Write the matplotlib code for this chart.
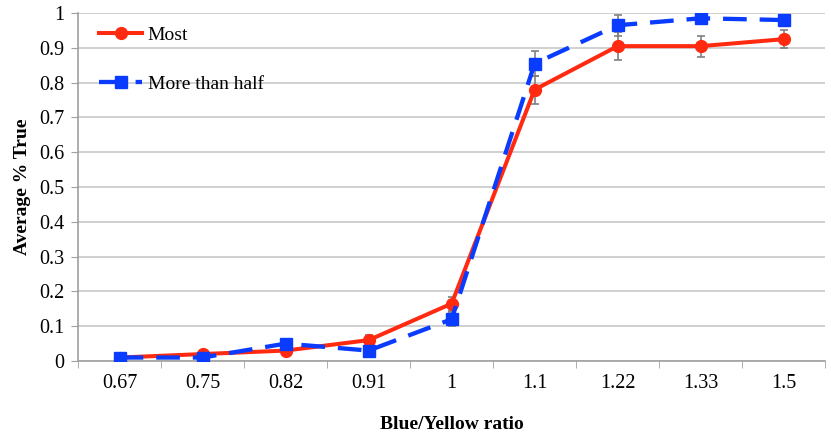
import numpy as np
import matplotlib
matplotlib.use("Agg")
import matplotlib.pyplot as plt
from matplotlib.ticker import FixedLocator

plt.rcParams['font.family'] = ['Liberation Serif', 'DejaVu Serif']

ratios = ["0.67", "0.75", "0.82", "0.91", "1", "1.1", "1.22", "1.33", "1.5"]
most = [0.01, 0.02, 0.03, 0.06, 0.165, 0.78, 0.905, 0.905, 0.925]
most_err = [0.005, 0.01, 0.01, 0.015, 0.02, 0.04, 0.04, 0.03, 0.025]
half = [0.01, 0.01, 0.05, 0.03, 0.12, 0.855, 0.965, 0.985, 0.98]
half_err = [0.005, 0.01, 0.01, 0.015, 0.02, 0.035, 0.03, 0.01, 0.01]

x = np.arange(len(ratios))

fig = plt.figure(figsize=(8.31, 4.36), dpi=100)
ax = fig.add_axes([0.094, 0.172, 0.899, 0.798])

ax.yaxis.grid(True, color="#c8c8c8", linewidth=1.2)
ax.set_axisbelow(True)

ax.errorbar(x, most, yerr=most_err, fmt="none", ecolor="#808080",
            elinewidth=1.2, capsize=3, capthick=1.2, zorder=2)
ax.errorbar(x, half, yerr=half_err, fmt="none", ecolor="#808080",
            elinewidth=1.2, capsize=3, capthick=1.2, zorder=2)

ax.plot(x, most, color="#ff2a10", linewidth=2.9, marker="o",
        markersize=8.5, label="Most", zorder=3)
ax.plot(x, half, color="#0a3cff", linewidth=3.1, linestyle=(0, (5.5, 3)),
        marker="s", markersize=8, label="More than half", zorder=4)

ax.set_xlim(-0.5, len(ratios) - 0.5)
ax.set_ylim(0, 1)
ax.set_yticks(np.arange(0, 1.01, 0.1))
ax.set_yticklabels(["0"] + ["%.1f" % v for v in np.arange(0.1, 0.95, 0.1)] + ["1"])
ax.set_xticks(x)
ax.set_xticklabels(ratios)
ax.xaxis.set_minor_locator(FixedLocator(np.arange(-0.5, len(ratios), 1)))
ax.tick_params(axis="x", which="major", length=0, pad=9, labelsize=14.5)
ax.tick_params(axis="x", which="minor", length=5, color="#a0a0a0")
ax.tick_params(axis="y", length=5, color="#a0a0a0", labelsize=14.5, pad=5)

for s in ["top", "right"]:
    ax.spines[s].set_visible(False)
for s in ["left", "bottom"]:
    ax.spines[s].set_color("#a0a0a0")
    ax.spines[s].set_linewidth(1.2)

ax.set_xlabel("Blue/Yellow ratio", fontsize=14, fontweight="bold", labelpad=17)
ax.set_ylabel("Average % True", fontsize=14, fontweight="bold", labelpad=6)

ax.legend(loc="upper left", frameon=False, fontsize=14, labelspacing=1.6,
          handlelength=2.2, handletextpad=0.3, borderaxespad=0.3,
          bbox_to_anchor=(0.01, 1.0))

fig.savefig("out.png", dpi=100)
